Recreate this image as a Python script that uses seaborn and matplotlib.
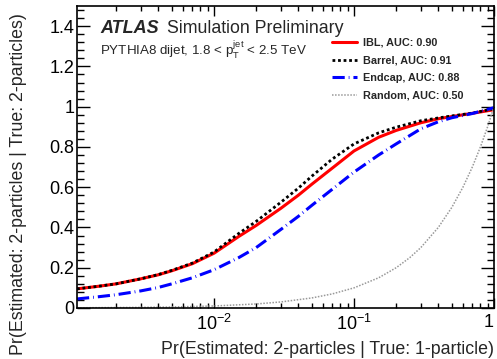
import matplotlib
matplotlib.use("Agg")
import matplotlib.pyplot as plt
import seaborn as sns
import pandas as pd
from matplotlib.ticker import FixedLocator, NullFormatter

# ROC points (x = Pr(est 2 | true 1), y = Pr(est 2 | true 2))
fpr = [0.00105, 0.0015, 0.002, 0.003, 0.004, 0.005, 0.007, 0.01, 0.015, 0.02,
       0.03, 0.04, 0.05, 0.07, 0.1, 0.15, 0.2, 0.3, 0.4, 0.5, 0.7, 1.0]
tpr_ibl = [0.095, 0.108, 0.12, 0.145, 0.165, 0.185, 0.22, 0.272, 0.355, 0.41,
           0.495, 0.56, 0.615, 0.695, 0.78, 0.848, 0.882, 0.92, 0.94, 0.951, 0.967, 0.985]
tpr_barrel = [0.095, 0.108, 0.12, 0.145, 0.166, 0.187, 0.223, 0.278, 0.37, 0.43,
              0.525, 0.595, 0.655, 0.74, 0.815, 0.87, 0.898, 0.93, 0.944, 0.954, 0.968, 0.99]
tpr_endcap = [0.045, 0.056, 0.066, 0.085, 0.102, 0.12, 0.15, 0.19, 0.25, 0.30,
              0.39, 0.455, 0.51, 0.59, 0.675, 0.76, 0.815, 0.89, 0.925, 0.945, 0.966, 0.995]
random_x = [0.00105, 0.003, 0.005, 0.01, 0.02, 0.03, 0.05, 0.07, 0.1, 0.15, 0.2,
            0.25, 0.3, 0.4, 0.5, 0.6, 0.7, 0.8, 0.9, 1.0]
random_y = [0.00105, 0.003, 0.005, 0.01, 0.02, 0.03, 0.05, 0.07, 0.1, 0.15, 0.2,
            0.25, 0.3, 0.4, 0.5, 0.6, 0.7, 0.8, 0.9, 1.0]

labels = ["IBL, AUC: 0.90", "Barrel, AUC: 0.91", "Endcap, AUC: 0.88", "Random, AUC: 0.50"]

sns.set_theme(style="ticks")
plt.rcParams["font.family"] = ["Liberation Sans", "DejaVu Sans"]
plt.rcParams["mathtext.fontset"] = "custom"
plt.rcParams["mathtext.rm"] = "Liberation Sans"
plt.rcParams["mathtext.it"] = "Liberation Sans:italic"

fig = plt.figure(figsize=(4.97, 3.59), dpi=100)
ax = fig.add_axes([77 / 497, 1 - 308 / 359, 417 / 497, 302 / 359])

curves = pd.DataFrame({"x": fpr, "ibl": tpr_ibl, "barrel": tpr_barrel, "endcap": tpr_endcap})
rnd = pd.DataFrame({"x": random_x, "y": random_y})

sns.lineplot(data=curves, x="x", y="ibl", ax=ax, color="#ff0000", lw=2.2,
             estimator=None, label=labels[0])
sns.lineplot(data=curves, x="x", y="barrel", ax=ax, color="black", lw=2.0,
             estimator=None, label=labels[1], linestyle=(0, (1.0, 1.0)))
sns.lineplot(data=curves, x="x", y="endcap", ax=ax, color="#0000ff", lw=2.2,
             estimator=None, label=labels[2], linestyle=(0, (4.0, 1.3, 0.25, 1.3)))
sns.lineplot(data=rnd, x="x", y="y", ax=ax, color="#999999", lw=1.1,
             estimator=None, label=labels[3], linestyle=(0, (1, 1)))

ax.set_xscale("log")
ax.set_xlim(0.00105, 1.0)
ax.set_ylim(0, 1.5)

ax.xaxis.set_major_locator(FixedLocator([0.01, 0.1, 1.0]))
ax.set_xticklabels([r"$10^{-2}$", r"$10^{-1}$", "1"])
ax.get_xticklabels()[2].set_horizontalalignment("right")
minor_x = [k * 10.0 ** e for e in (-3, -2, -1) for k in range(2, 10)]
ax.xaxis.set_minor_locator(FixedLocator(minor_x))
ax.xaxis.set_minor_formatter(NullFormatter())

yt = [0, 0.2, 0.4, 0.6, 0.8, 1.0, 1.2, 1.4]
ax.set_yticks(yt)
ax.set_yticklabels(["0", "0.2", "0.4", "0.6", "0.8", "1", "1.2", "1.4"])
ax.yaxis.set_minor_locator(FixedLocator([i * 0.04 for i in range(38)]))

ax.tick_params(which="both", direction="in", top=True, right=True, width=1.0,
               colors="black", labelsize=13)
ax.tick_params(axis="y", which="major", length=9.5, pad=2)
ax.tick_params(axis="y", which="minor", length=5)
ax.tick_params(axis="x", which="major", length=7, pad=4)
ax.tick_params(axis="x", which="minor", length=3.5)
for s in ax.spines.values():
    s.set_linewidth(1.2)
    s.set_color("black")

ax.set_xlabel("Pr(Estimated: 2-particles | True: 1-particle)", fontsize=12.8, ha="right", x=1.0)
ax.set_ylabel("Pr(Estimated: 2-particles | True: 2-particles)", fontsize=12.8, ha="right", y=1.0)
ax.xaxis.set_label_coords(1.0, -0.11)
ax.yaxis.set_label_coords(-0.12, 0.977)

leg = ax.legend(loc="upper left", bbox_to_anchor=(0.611, 0.895), frameon=False,
                prop={"size": 7.8, "weight": "bold"}, handlelength=2.3,
                labelspacing=0.7, borderpad=0, borderaxespad=0, handletextpad=0.55)

fig.text(100 / 497, 1 - 33 / 359, "ATLAS", fontsize=13, fontweight="bold",
         fontstyle="italic", va="baseline")
fig.text(167 / 497, 1 - 33 / 359, "Simulation Preliminary", fontsize=12.8, va="baseline")
fig.text(100 / 497, 1 - 55 / 359,
         r"PYTHIA8 dijet, 1.8 < $\mathregular{p_{T}^{jet}}$ < 2.5 TeV",
         fontsize=9.6, va="baseline")

fig.savefig("out.png", dpi=100)
